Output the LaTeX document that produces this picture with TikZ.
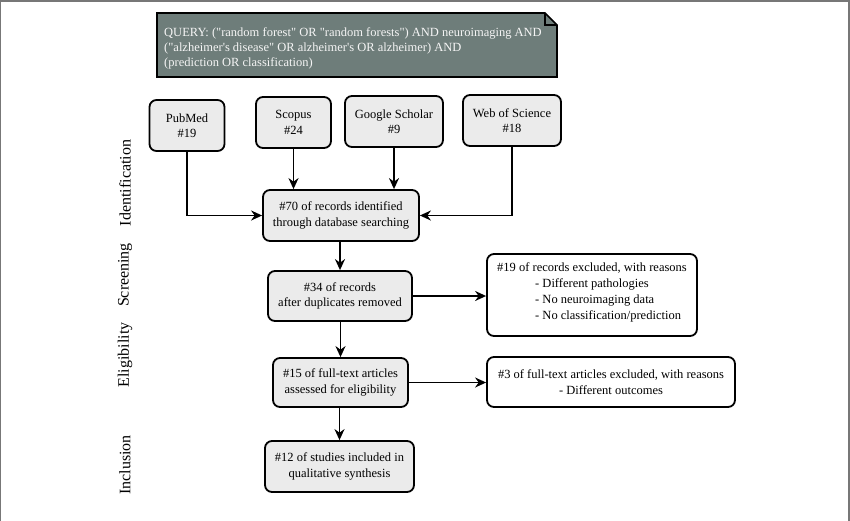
\documentclass[tikz,border=0pt]{standalone}
\usepackage{fontspec}
\setmainfont{Liberation Serif}
\usetikzlibrary{arrows.meta}
\definecolor{qfill}{HTML}{6E7D7A}
\definecolor{bfill}{HTML}{EBEBEB}
\definecolor{frame}{HTML}{777777}
\newcommand{\qd}{\textquotedbl}
\newcommand{\qs}{\textquotesingle}
\tikzset{
  box/.style={draw=black, line width=1.8pt, rounded corners=7pt, fill=bfill, align=center, font=\fontsize{12.5}{15.5}\selectfont, inner sep=0pt},
  wbox/.style={draw=black, line width=1.8pt, rounded corners=7pt, fill=white, inner sep=0pt, font=\fontsize{12.5}{15.5}\selectfont},
  arr/.style={line width=1.8pt, -{Stealth[length=11pt,width=10pt]}},
  side/.style={rotate=90, font=\fontsize{16}{18}\selectfont},
}
\begin{document}
\begin{tikzpicture}[x=1pt,y=-1pt]
\useasboundingbox (0,0) rectangle (850,520);
\draw[frame, line width=2pt] (0,530) -- (0,0.5) -- (848.5,0.5) -- (848.5,530);
% query
\draw[black, line width=1.6pt, fill=qfill] (157,13) -- (545,13) -- (557,25) -- (557,77) -- (157,77) -- cycle;
\draw[black, line width=1.2pt] (545,13) -- (545,25) -- (557,25);
\node[anchor=west, align=left, text=white!92!gray, font=\fontsize{12.5}{15}\selectfont, inner sep=0pt] (q) at (164,48) {QUERY: (\qd random forest\qd{} OR \qd random forests\qd) AND neuroimaging AND\\(\qd alzheimer\qs s disease\qd{} OR alzheimer\qs s OR alzheimer) AND\\(prediction OR classification)};
% sources
\node[box, minimum width=75pt, minimum height=51pt] (pub) at (187,125.5) {PubMed\\\#19};
\node[box, minimum width=75pt, minimum height=51pt] (sco) at (293.5,122.5) {Scopus\\\#24};
\node[box, minimum width=98pt, minimum height=51pt] (goo) at (394,121.5) {Google Scholar\\\#9};
\node[box, minimum width=98pt, minimum height=51pt] (wos) at (512,120.5) {Web of Science\\\#18};
% flow
\node[box, minimum width=156pt, minimum height=51pt] (id) at (341,215.5) {\#70 of records identified\\through database searching};
\node[box, minimum width=144pt, minimum height=50pt] (scr) at (340,296) {\#34 of records\\after duplicates removed};
\node[box, minimum width=135pt, minimum height=49pt] (eli) at (340.5,382.5) {\#15 of full-text articles\\assessed for eligibility};
\node[box, minimum width=149pt, minimum height=51pt] (inc) at (339.5,466.5) {\#12 of studies included in\\qualitative synthesis};
% exclusions
\node[wbox, minimum width=210pt, minimum height=82pt] (ex1) at (592,295) {};
\node[anchor=north, inner sep=0pt, font=\fontsize{12.5}{15.5}\selectfont] (ex1a) at (592,262) {\#19 of records excluded, with reasons};
\node[anchor=north west, inner sep=0pt, align=left, font=\fontsize{12.5}{16}\selectfont] (ex1b) at (535,278) {- Different pathologies\\- No neuroimaging data\\- No classification/prediction};
\node[wbox, minimum width=248pt, minimum height=50pt] (ex2) at (611,382) {};
\node[inner sep=0pt, align=center, font=\fontsize{12.5}{15.5}\selectfont] (ex2t) at (611,382) {\#3 of full-text articles excluded, with reasons\\- Different outcomes};
% arrows
\draw[arr] (pub.south) |- (id.west);
\draw[arr] (wos.south) |- (id.east);
\draw[arr] (sco.south) -- (sco.south |- id.north);
\draw[arr] (goo.south) -- (goo.south |- id.north);
\draw[arr] (id.south -| scr.north) -- (scr.north);
\draw[arr] (scr.south -| eli.north) -- (eli.north);
\draw[arr] (eli.south -| inc.north) -- (inc.north);
\draw[arr] (scr.east) -- (scr.east -| ex1.west);
\draw[arr] (eli.east) -- (eli.east -| ex2.west);
% side labels
\node[side] (l1) at (125,183) {Identification};
\node[side] (l2) at (125,275) {Screening};
\node[side] (l3) at (125,355) {Eligibility};
\node[side] (l4) at (125,465) {Inclusion};
\end{tikzpicture}
\end{document}
